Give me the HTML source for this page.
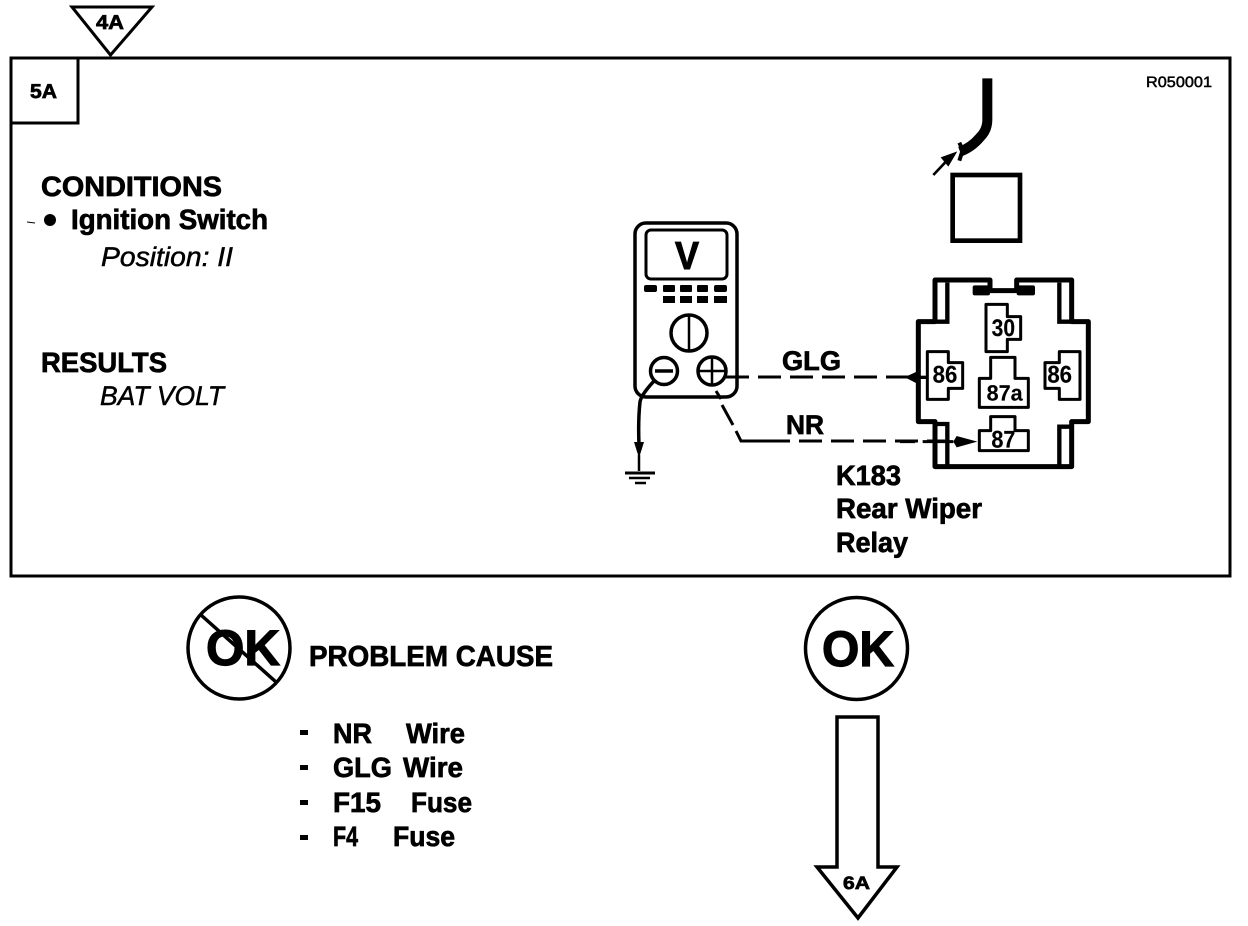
<!DOCTYPE html>
<html><head><meta charset="utf-8"><title>Diagram</title>
<style>
html,body{margin:0;padding:0;background:#fff;width:1248px;height:926px;overflow:hidden}
svg{display:block}
text{font-family:"Liberation Sans",sans-serif;font-weight:bold;fill:#000;stroke:#000;stroke-width:.7;text-rendering:geometricPrecision}
.i{font-style:italic;font-weight:normal;stroke-width:.5}
.t{font-weight:bold;stroke-width:.5}
</style></head><body>
<svg xmlns="http://www.w3.org/2000/svg" width="1248" height="926" viewBox="0 0 1248 926" fill="none" stroke="#000">
<rect width="1248" height="926" fill="#fff" stroke="none"/>

<!-- frame -->
<rect x="11" y="58" width="1219" height="518" stroke-width="3"/>
<path d="M11 123H78V58" stroke-width="3"/>
<path d="M72 7H152L110.500 55Z" stroke-width="3" fill="#fff"/>
<text x="96" y="29" font-size="20" textLength="28" lengthAdjust="spacingAndGlyphs">4A</text>
<text x="30" y="98" font-size="20" textLength="27" lengthAdjust="spacingAndGlyphs">5A</text>
<text x="1146" y="87" font-size="15" textLength="66" lengthAdjust="spacingAndGlyphs" style="font-weight:normal;stroke-width:.5">R050001</text>

<!-- left text -->
<text x="41" y="196" font-size="28" textLength="181" lengthAdjust="spacingAndGlyphs">CONDITIONS</text>
<circle cx="50" cy="220" r="6" fill="#000" stroke="none"/>
<path d="M27 222L35 223" stroke-width="1"/>
<text x="71" y="229" font-size="28" textLength="197" lengthAdjust="spacingAndGlyphs">Ignition Switch</text>
<text class="i" x="101" y="266" font-size="27" textLength="132" lengthAdjust="spacingAndGlyphs">Position: II</text>
<text x="41" y="372" font-size="28" textLength="126" lengthAdjust="spacingAndGlyphs">RESULTS</text>
<text class="i" x="100" y="405" font-size="27" textLength="124" lengthAdjust="spacingAndGlyphs">BAT VOLT</text>

<!-- meter -->
<rect x="635" y="223" width="102" height="174" rx="11" stroke-width="3.500"/>
<rect x="646" y="230" width="81" height="49" rx="5" stroke-width="3"/>
<text x="675" y="269" font-size="39" textLength="24" lengthAdjust="spacingAndGlyphs" style="stroke-width:1">V</text>
<g fill="#000" stroke="none">
<rect x="644" y="285" width="13" height="7" rx="2"/><rect x="663" y="285" width="12" height="7" rx="1"/><rect x="680" y="285" width="12" height="7" rx="1"/><rect x="697" y="285" width="11" height="7" rx="1"/><rect x="714" y="285" width="13" height="7" rx="2"/>
<rect x="663" y="296" width="12" height="7"/><rect x="680" y="296" width="12" height="7"/><rect x="697" y="296" width="11" height="7"/><rect x="714" y="296" width="13" height="7"/>
</g>
<circle cx="689" cy="333" r="18" stroke-width="3.500"/>
<path d="M689 315V351" stroke-width="2.500"/>
<circle cx="664" cy="371" r="13.500" stroke-width="3.500" fill="#fff"/>
<path d="M655 371H673" stroke-width="3.500"/>
<circle cx="712" cy="371" r="14" stroke-width="3.500" fill="#fff"/>
<path d="M698 371H726M712 357V385" stroke-width="2.500"/>

<!-- ground -->
<path d="M654 381Q641 395 640 402Q638 420 639 445" stroke-width="3.500"/>
<path d="M634 442H644L639 458Z" fill="#000" stroke="none"/>
<path d="M639 455V471" stroke-width="2.500"/>
<path d="M625 473H655" stroke-width="3"/><path d="M629 478H650" stroke-width="2.500"/><path d="M635 483H646" stroke-width="2.500"/>

<!-- wires -->
<path d="M726 377H906" stroke-width="3" stroke-dasharray="23 9"/>
<path d="M906 377H918" stroke-width="3"/>
<path d="M906 377L918 372V382Z" fill="#000" stroke-width="1"/>
<path d="M716 391L721 399M722 405L733 425M736 431L741 441H771" stroke-width="3"/>
<path d="M770 441H945" stroke-width="3" stroke-dasharray="23 9" stroke-dashoffset="3"/>
<text x="782" y="370" font-size="27" textLength="59" lengthAdjust="spacingAndGlyphs">GLG</text>
<text x="786" y="434" font-size="27" textLength="38" lengthAdjust="spacingAndGlyphs">NR</text>
<text x="836" y="485" font-size="28" textLength="65" lengthAdjust="spacingAndGlyphs">K183</text>
<text x="836" y="518" font-size="28" textLength="146" lengthAdjust="spacingAndGlyphs">Rear Wiper</text>
<text x="836" y="552" font-size="28" textLength="72" lengthAdjust="spacingAndGlyphs">Relay</text>

<!-- relay group: coordinates in zoomed units -->
<g transform="translate(900 70) scale(.33333)">
<path d="M262 25V150Q262 180 240 202Q215 232 180 245" stroke-width="30"/>
<path d="M178 218L188 240L178 272" stroke-width="12"/>
<path d="M100 315L150 262" stroke-width="8"/>
<path d="M122 262L172 244L145 290Z" fill="#000" stroke="none"/>
<rect x="158" y="315" width="202" height="197" stroke-width="14"/>

<path d="M105 630H270V662H350V630H515V755H565V1055H515V1190H105V1055H55V755H105Z" stroke-width="15" stroke-linejoin="round"/>
<path d="M142 638V755H105M478 638V755H515M142 1190V1062H105M478 1190V1070H515" stroke-width="13"/>
<rect x="218" y="646" width="52" height="30" rx="6" fill="#000" stroke="none"/>
<rect x="350" y="646" width="55" height="30" rx="6" fill="#000" stroke="none"/>
<g stroke-width="9" stroke-linejoin="round">
<path d="M258 703H322V740H362V808H322V845H258Z"/>
<path d="M82 845H145V878H188V955H145V988H82Z"/>
<path d="M540 845H478V878H435V955H478V988H540Z"/>
<path d="M272 862H345V925H385V1012H238V925H272Z"/>
<path d="M272 1040H345V1082H385V1142H238V1082H272Z"/>
</g>
<path d="M15 922L50 905V940Z" fill="#000" stroke="none"/>
<path d="M40 922H85" stroke-width="10"/>
<path d="M0 1115H45M68 1115H160" stroke-width="9"/>
<path d="M232 1115L170 1098L160 1115L170 1132Z" fill="#000" stroke="none"/>
<text class="t" x="275" y="798" font-size="72" textLength="70" lengthAdjust="spacingAndGlyphs">30</text>
<text class="t" x="98" y="938" font-size="72" textLength="74" lengthAdjust="spacingAndGlyphs">86</text>
<text class="t" x="442" y="938" font-size="72" textLength="74" lengthAdjust="spacingAndGlyphs">86</text>
<text class="t" x="260" y="992" font-size="66" textLength="108" lengthAdjust="spacingAndGlyphs">87a</text>
<text class="t" x="274" y="1133" font-size="72" textLength="72" lengthAdjust="spacingAndGlyphs">87</text>
</g>

<!-- not OK -->
<text x="206" y="665" font-size="50" textLength="74" lengthAdjust="spacingAndGlyphs" style="stroke-width:1.200">OK</text>
<circle cx="239" cy="648" r="51" stroke-width="3.500"/>
<path d="M201 615L276 682" stroke-width="3.500"/>
<text x="309" y="666" font-size="29" textLength="244" lengthAdjust="spacingAndGlyphs">PROBLEM CAUSE</text>
<g fill="#000" stroke="none">
<rect x="300" y="730" width="8" height="5"/><rect x="300" y="765" width="8" height="5"/><rect x="300" y="800" width="8" height="5"/><rect x="300" y="835" width="8" height="5"/>
</g>
<text x="333" y="743" font-size="28" textLength="39" lengthAdjust="spacingAndGlyphs">NR</text>
<text x="406" y="743" font-size="28" textLength="59" lengthAdjust="spacingAndGlyphs">Wire</text>
<text x="333" y="777" font-size="28" textLength="59" lengthAdjust="spacingAndGlyphs">GLG</text>
<text x="403" y="777" font-size="28" textLength="60" lengthAdjust="spacingAndGlyphs">Wire</text>
<text x="333" y="812" font-size="28" textLength="48" lengthAdjust="spacingAndGlyphs">F15</text>
<text x="411" y="812" font-size="28" textLength="61" lengthAdjust="spacingAndGlyphs">Fuse</text>
<text x="333" y="846" font-size="28" textLength="25" lengthAdjust="spacingAndGlyphs">F4</text>
<text x="393" y="846" font-size="28" textLength="62" lengthAdjust="spacingAndGlyphs">Fuse</text>

<!-- OK -->
<circle cx="856.500" cy="648.500" r="51" stroke-width="3.500"/>
<text x="822" y="666" font-size="50" textLength="72" lengthAdjust="spacingAndGlyphs" style="stroke-width:1.200">OK</text>
<path d="M837 717H878V867H897L858 918L817 867H837Z" stroke-width="3.500"/>
<text x="843" y="889" font-size="18" textLength="27" lengthAdjust="spacingAndGlyphs">6A</text>
</svg>
</body></html>
